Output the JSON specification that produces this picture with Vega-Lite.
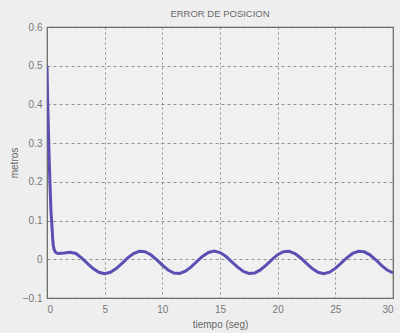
{
  "$schema": "https://vega.github.io/schema/vega-lite/v6.json",
  "autosize": "none",
  "width": 346,
  "height": 271,
  "padding": {"left": 47, "top": 27, "right": 7, "bottom": 35},
  "background": "#eeeeee",
  "config": {
    "view": {"stroke": "#5a6658", "strokeWidth": 1.2, "fill": "#f0f0f0"},
    "font": "Liberation Sans"
  },
  "title": {"text": "ERROR DE POSICION", "fontSize": 9.5, "fontWeight": "normal", "color": "#6a6a6a", "offset": 4, "anchor": "middle"},
  "data": {"values": [
    {"t": 0, "e": 0.5}, {"t": 0.05, "e": 0.42}, {"t": 0.1, "e": 0.36}, {"t": 0.15, "e": 0.3},
    {"t": 0.2, "e": 0.25}, {"t": 0.25, "e": 0.2}, {"t": 0.3, "e": 0.16}, {"t": 0.35, "e": 0.12},
    {"t": 0.4, "e": 0.1}, {"t": 0.45, "e": 0.075}, {"t": 0.5, "e": 0.05}, {"t": 0.55, "e": 0.035},
    {"t": 0.6, "e": 0.027}, {"t": 0.7, "e": 0.02}, {"t": 0.85, "e": 0.016}, {"t": 1.0, "e": 0.015},
    {"t": 1.5, "e": 0.016}, {"t": 2.0, "e": 0.018}, {"t": 2.5, "e": 0.0149},
    {"t": 3.0, "e": 0.0037}, {"t": 3.5, "e": -0.0104}, {"t": 4.0, "e": -0.0238}, {"t": 4.5, "e": -0.0335},
    {"t": 5.0, "e": -0.037}, {"t": 5.5, "e": -0.0335}, {"t": 6.0, "e": -0.0238}, {"t": 6.5, "e": -0.0104},
    {"t": 7.0, "e": 0.0037}, {"t": 7.5, "e": 0.0149}, {"t": 8.0, "e": 0.0206}, {"t": 8.5, "e": 0.0194},
    {"t": 9.0, "e": 0.0116}, {"t": 9.5, "e": -0.0009}, {"t": 10.0, "e": -0.0152}, {"t": 10.5, "e": -0.0277},
    {"t": 11.0, "e": -0.0355}, {"t": 11.5, "e": -0.0366}, {"t": 12.0, "e": -0.0308}, {"t": 12.5, "e": -0.0195},
    {"t": 13.0, "e": -0.0055}, {"t": 13.5, "e": 0.008}, {"t": 14.0, "e": 0.0176}, {"t": 14.5, "e": 0.021},
    {"t": 15.0, "e": 0.0174}, {"t": 15.5, "e": 0.0077}, {"t": 16.0, "e": -0.0058}, {"t": 16.5, "e": -0.0198},
    {"t": 17.0, "e": -0.031}, {"t": 17.5, "e": -0.0366}, {"t": 18.0, "e": -0.0354}, {"t": 18.5, "e": -0.0275},
    {"t": 19.0, "e": -0.0149}, {"t": 19.5, "e": -0.0007}, {"t": 20.0, "e": 0.0118}, {"t": 20.5, "e": 0.0195},
    {"t": 21.0, "e": 0.0206}, {"t": 21.5, "e": 0.0147}, {"t": 22.0, "e": 0.0034}, {"t": 22.5, "e": -0.0107},
    {"t": 23.0, "e": -0.0241}, {"t": 23.5, "e": -0.0336}, {"t": 24.0, "e": -0.037}, {"t": 24.5, "e": -0.0334},
    {"t": 25.0, "e": -0.0236}, {"t": 25.5, "e": -0.0101}, {"t": 26.0, "e": 0.0039}, {"t": 26.5, "e": 0.0151},
    {"t": 27.0, "e": 0.0207}, {"t": 27.5, "e": 0.0193}, {"t": 28.0, "e": 0.0114}, {"t": 28.5, "e": -0.0012},
    {"t": 29.0, "e": -0.0155}, {"t": 29.5, "e": -0.0279}, {"t": 30.0, "e": -0.0355}
  ]},
  "mark": {"type": "line", "color": "#5a4fb3", "strokeWidth": 3, "clip": true},
  "encoding": {
    "x": {
      "field": "t", "type": "quantitative",
      "scale": {"domain": [0, 30], "nice": false, "zero": false},
      "axis": {
        "title": "tiempo (seg)", "titleFont": "Liberation Sans", "titleFontSize": 10, "titleFontWeight": "normal", "titleColor": "#666666", "titlePadding": 5,
        "values": [0, 5, 10, 15, 20, 25, 30], "format": "d",
        "labelFontSize": 10, "labelColor": "#777777", "labelPadding": 6,
        "ticks": false, "domain": false,
        "grid": true, "gridColor": "#777777", "gridDash": [2, 3], "gridWidth": 1, "gridOpacity": 0.8
      }
    },
    "y": {
      "field": "e", "type": "quantitative",
      "scale": {"domain": [-0.1, 0.6], "nice": false, "zero": false},
      "axis": {
        "title": "metros", "titleFont": "Liberation Sans", "titleFontSize": 10, "titleFontWeight": "normal", "titleColor": "#666666", "titlePadding": 3,
        "values": [-0.1, 0, 0.1, 0.2, 0.3, 0.4, 0.5, 0.6], "format": ".1~f",
        "labelFontSize": 10, "labelColor": "#777777", "labelPadding": 5,
        "ticks": false, "domain": false,
        "grid": true, "gridColor": "#777777", "gridDash": [3, 3], "gridWidth": 1, "gridOpacity": 0.8
      }
    }
  }
}
